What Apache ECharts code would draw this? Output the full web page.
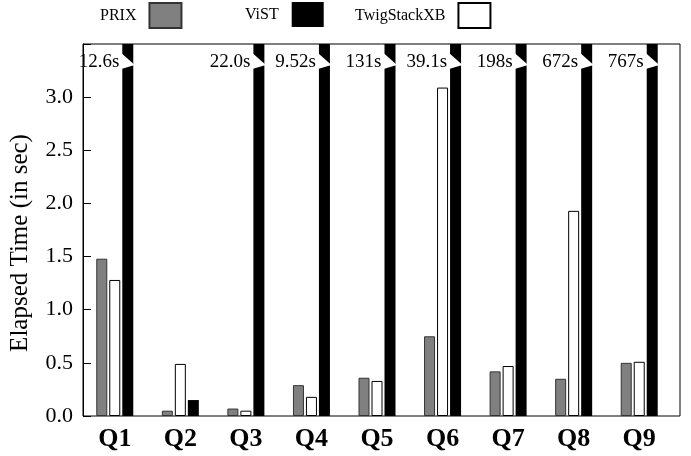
<!DOCTYPE html>
<html><head><meta charset="utf-8">
<script src="https://cdn.jsdelivr.net/npm/echarts@6/dist/echarts.min.js"></script>
<style>html,body{margin:0;padding:0;background:#fff}#c{width:691px;height:456px}</style>
</head><body><div id="c"></div>
<script>
const categories = ['Q1','Q2','Q3','Q4','Q5','Q6','Q7','Q8','Q9'];
const prix = [1.48, 0.05, 0.07, 0.29, 0.36, 0.75, 0.42, 0.35, 0.50];
const twig = [1.28, 0.49, 0.05, 0.18, 0.33, 3.09, 0.47, 1.93, 0.51];
const vist = [12.6, 0.15, 22.0, 9.52, 131, 39.1, 198, 672, 767];
const yTickLabels = ['0.0','0.5','1.0','1.5','2.0','2.5','3.0'];
const yMax = 3.5;
const yStep = 0.5;

const SERIF = 'Liberation Serif';
const BAR_W = 11, BAR_GAP = 2;
const chart = echarts.init(document.getElementById('c'));

const legendBase = {
  top: 2, padding: 0, align: 'right', orient: 'horizontal', icon: 'rect',
  itemWidth: 32, itemHeight: 25, selectedMode: false,
  textStyle: {fontFamily: SERIF, fontSize: 16, color: '#000', padding: [0, 8, 0, 0]}
};

const overData = [];
vist.forEach((v, i) => { if (v > yMax) overData.push([i, v]); });

chart.setOption({
  animation: false,
  backgroundColor: '#fff',
  legend: [
    Object.assign({}, legendBase, {data: ['PRIX'], left: 100}),
    Object.assign({}, legendBase, {data: ['ViST'], left: 245}),
    Object.assign({}, legendBase, {data: ['TwigStackXB'], left: 355})
  ],
  grid: [
    {left: 79, right: 11, top: 44, bottom: 40, show: true, borderColor: '#000', borderWidth: 1, containLabel: false},
    {left: 82, right: 19, top: 44, bottom: 40, containLabel: false}
  ],
  xAxis: [
    {gridIndex: 0, type: 'value', min: 0, max: 1, show: false},
    {gridIndex: 1, type: 'category', data: categories,
     axisLine: {show: false}, axisTick: {show: false},
     axisLabel: {fontFamily: SERIF, fontWeight: 'bold', fontSize: 26, color: '#000', margin: 10}}
  ],
  yAxis: [
    {gridIndex: 0, type: 'value', min: 0, max: yMax, interval: yStep,
     axisLine: {show: true, lineStyle: {color: '#000', width: 1}},
     axisTick: {show: true, inside: true, length: 8, lineStyle: {color: '#000'}},
     splitLine: {show: false},
     axisLabel: {fontFamily: SERIF, fontSize: 22, color: '#000', margin: 10,
       formatter: v => { const k = Math.round(v / yStep); return k < yTickLabels.length ? yTickLabels[k] : ''; }},
     name: 'Elapsed Time (in sec)', nameLocation: 'middle', nameGap: 50,
     nameTextStyle: {fontFamily: SERIF, fontSize: 25, color: '#000', padding: [0, 26, 0, 0]}},
    {gridIndex: 1, type: 'value', min: 0, max: yMax, show: false}
  ],
  series: [
    {name: 'PRIX', type: 'bar', xAxisIndex: 1, yAxisIndex: 1, data: prix,
     barWidth: BAR_W, barGap: (BAR_GAP / BAR_W * 100) + '%',
     itemStyle: {color: '#808080', borderColor: '#333', borderWidth: 1}},
    {name: 'TwigStackXB', type: 'bar', xAxisIndex: 1, yAxisIndex: 1, data: twig,
     barWidth: BAR_W, barGap: (BAR_GAP / BAR_W * 100) + '%',
     itemStyle: {color: '#fff', borderColor: '#000', borderWidth: 1}},
    {name: 'ViST', type: 'bar', xAxisIndex: 1, yAxisIndex: 1, data: vist,
     barWidth: BAR_W, barGap: (BAR_GAP / BAR_W * 100) + '%',
     itemStyle: {color: '#000', borderColor: '#000', borderWidth: 0}},
    {name: 'breaks', type: 'custom', xAxisIndex: 1, yAxisIndex: 1, data: overData, z: 10, clip: false,
     silent: true,
     renderItem: (params, api) => {
       const i = api.value(0);
       const cx = api.coord([i, 0])[0];
       const top = api.coord([i, yMax])[1];
       const total = 3 * BAR_W + 2 * BAR_GAP;
       const xl = cx - total / 2 + 2 * (BAR_W + BAR_GAP);
       const xr = xl + BAR_W;
       const v = api.value(1);
       return {type: 'group', children: [
         {type: 'polygon', shape: {points: [[xl - 1, top + 9], [xl - 1, top + 25], [xr + 1.5, top + 21]]},
          style: {fill: '#fff', stroke: null}},
         {type: 'text', x: xl - 3, y: top + 18,
          style: {text: v.toPrecision(3) + 's', fontFamily: SERIF, fontSize: 19, fill: '#000',
                  align: 'right', verticalAlign: 'middle'}}
       ]};
     }}
  ]
});
</script></body></html>
